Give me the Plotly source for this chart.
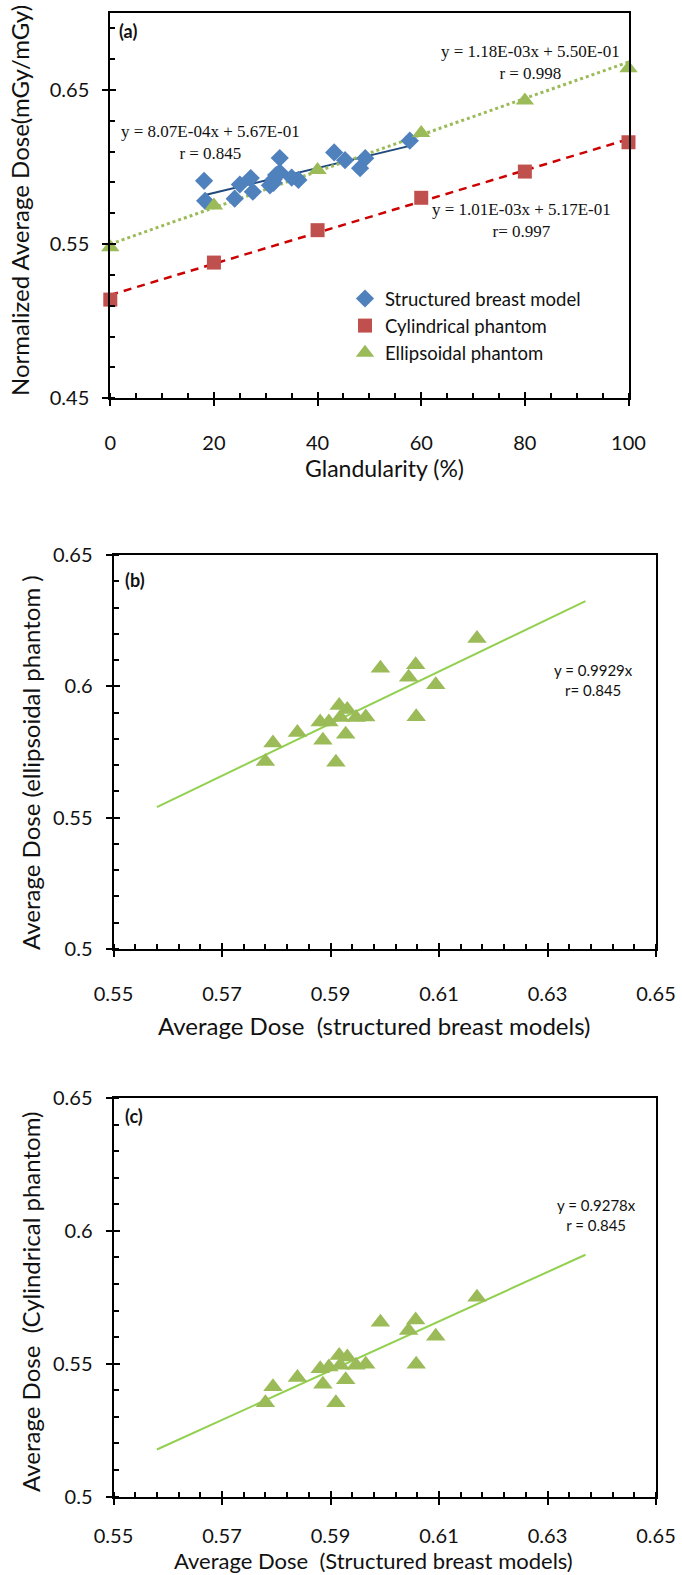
import plotly.graph_objects as go

W, H = 682, 1575

# ---------------- data ----------------
# Panel (a): glandularity vs normalized dose
phantom_gland = [0, 20, 40, 60, 80, 100]
ellip_dose = [0.548, 0.575, 0.598, 0.622, 0.643, 0.664]
cyl_dose = [0.514, 0.538, 0.559, 0.580, 0.597, 0.616]

struct_gland = [18.3, 24.0, 27.5, 30.8, 25.0, 31.5, 18.1, 36.3, 31.5, 27.1,
                35.0, 32.0, 32.7, 48.2, 45.3, 49.2, 32.7, 43.2, 57.8]
struct_dose = [0.5780, 0.5794, 0.5839, 0.5881, 0.5886, 0.5897, 0.5910, 0.5916,
               0.5918, 0.5928, 0.5931, 0.5947, 0.5965, 0.5992, 0.6044, 0.6057,
               0.6058, 0.6094, 0.6170]

# fit coefficients (slope, intercept)
fit_struct = (8.07e-4, 0.567)
fit_ellip = (1.18e-3, 0.550)
fit_cyl = (1.01e-3, 0.517)

# Panel (b) and (c): phantom dose vs structured dose
ellip_b = [0.5714, 0.5784, 0.5824, 0.5864, 0.5795, 0.5864, 0.5711, 0.5927,
           0.5881, 0.5818, 0.5912, 0.5881, 0.5883, 0.6069, 0.6035, 0.6082,
           0.5884, 0.6006, 0.6182]
cyl_c = [0.5353, 0.5413, 0.5448, 0.5481, 0.5423, 0.5488, 0.5353, 0.5531,
         0.5494, 0.5440, 0.5525, 0.5494, 0.5498, 0.5656, 0.5625, 0.5665,
         0.5498, 0.5603, 0.5750]
slope_b = 0.9929
slope_c = 0.9278
trend_x_range = [0.558, 0.637]

# ---------------- styles ----------------
BLUE = "#4F81BD"
NAVY = "#1F497D"
RED = "#C0504D"
DRED = "#CC0000"
GREEN = "#9BBB59"
LGREEN = "#92D050"
SANS = "Lato, Calibri, sans-serif"
SERIF = "Liberation Serif, Times New Roman, serif"


def px_x(p):
    return p / W


def px_y(p):
    return 1 - p / H


fig = go.Figure()

# ---- panel (a) ----
def line_pts(fit, xs):
    return [fit[0] * x + fit[1] for x in xs]

sx = [min(struct_gland), max(struct_gland)]
fig.add_trace(go.Scatter(x=sx, y=line_pts(fit_struct, sx), mode="lines",
                         line=dict(color=NAVY, width=2), showlegend=False,
                         xaxis="x", yaxis="y", hoverinfo="skip"))
px_rng = [min(phantom_gland), max(phantom_gland)]
fig.add_trace(go.Scatter(x=px_rng, y=line_pts(fit_cyl, px_rng), mode="lines",
                         line=dict(color=DRED, width=2.5, dash="8px,6px"), showlegend=False,
                         xaxis="x", yaxis="y", hoverinfo="skip"))
fig.add_trace(go.Scatter(x=px_rng, y=line_pts(fit_ellip, px_rng), mode="lines",
                         line=dict(color=GREEN, width=3, dash="dot"), showlegend=False,
                         xaxis="x", yaxis="y", hoverinfo="skip"))
fig.add_trace(go.Scatter(x=struct_gland, y=struct_dose, mode="markers",
                         name="Structured breast model",
                         marker=dict(symbol="diamond", size=14, color=BLUE),
                         cliponaxis=False, xaxis="x", yaxis="y"))
fig.add_trace(go.Scatter(x=phantom_gland, y=cyl_dose, mode="markers",
                         name="Cylindrical phantom",
                         marker=dict(symbol="square", size=14, color=RED),
                         cliponaxis=False, xaxis="x", yaxis="y"))
fig.add_trace(go.Scatter(x=phantom_gland, y=ellip_dose, mode="markers",
                         name="Ellipsoidal phantom",
                         marker=dict(symbol="triangle-up", size=16, color=GREEN),
                         cliponaxis=False, xaxis="x", yaxis="y"))

# ---- panel (b) ----
fig.add_trace(go.Scatter(x=trend_x_range, y=[slope_b * v for v in trend_x_range],
                         mode="lines", line=dict(color=LGREEN, width=2),
                         showlegend=False, xaxis="x2", yaxis="y2", hoverinfo="skip"))
fig.add_trace(go.Scatter(x=struct_dose, y=ellip_b, mode="markers",
                         marker=dict(symbol="triangle-up", size=17, color=GREEN),
                         showlegend=False, xaxis="x2", yaxis="y2"))

# ---- panel (c) ----
fig.add_trace(go.Scatter(x=trend_x_range, y=[slope_c * v for v in trend_x_range],
                         mode="lines", line=dict(color=LGREEN, width=2),
                         showlegend=False, xaxis="x3", yaxis="y3", hoverinfo="skip"))
fig.add_trace(go.Scatter(x=struct_dose, y=cyl_c, mode="markers",
                         marker=dict(symbol="triangle-up", size=17, color=GREEN),
                         showlegend=False, xaxis="x3", yaxis="y3"))

# empty traces to host overlay axes (inner halves of the crossing major ticks)
for xa, ya in (("x4", "y4"), ("x5", "y5"), ("x6", "y6")):
    fig.add_trace(go.Scatter(x=[], y=[], mode="markers", showlegend=False,
                             xaxis=xa, yaxis=ya, hoverinfo="skip"))


def axis(domain, rng, tick0, dtick, mtick0, mdtick, anchor, standoff):
    return dict(domain=domain, range=rng, anchor=anchor, tickmode="linear",
                tick0=tick0, dtick=dtick, ticks="outside", ticklen=6, tickwidth=2,
                tickcolor="black", showline=True, linecolor="black", linewidth=2,
                mirror=True, showgrid=False, zeroline=False, automargin=False,
                tickfont=dict(family=SANS, size=20, color="#111"),
                ticklabelstandoff=standoff,
                minor=dict(tickmode="linear", tick0=mtick0, dtick=mdtick, ticks="inside",
                           ticklen=5, tickwidth=1.5, tickcolor="black", showgrid=False))


def inner(domain, rng, tick0, dtick, anchor, over):
    return dict(domain=domain, range=rng, anchor=anchor, overlaying=over,
                tickmode="linear", tick0=tick0, dtick=dtick, ticks="inside",
                ticklen=6, tickwidth=2, tickcolor="black", showline=False,
                showticklabels=False, showgrid=False, zeroline=False, automargin=False)


dom_xa = [px_x(110.3), px_x(628.5)]
dom_ya = [px_y(398.3), px_y(12.7)]
dom_xb = [px_x(113.5), px_x(656)]
dom_yb = [px_y(949), px_y(555)]
dom_yc = [px_y(1496.6), px_y(1098)]

fig.update_layout(
    width=W, height=H, margin=dict(l=0, r=0, t=0, b=0, autoexpand=False),
    paper_bgcolor="white", plot_bgcolor="white",
    xaxis=axis(dom_xa, [0, 100], 0, 20, 0, 5, "y", 20),
    yaxis=axis(dom_ya, [0.45, 0.70], 0.45, 0.1, 0.45, 0.02, "x", 9),
    xaxis2=axis(dom_xb, [0.55, 0.65], 0.55, 0.02, 0.55, 0.004, "y2", 20),
    yaxis2=axis(dom_yb, [0.5, 0.65], 0.5, 0.05, 0.5, 0.01, "x2", 9),
    xaxis3=axis(dom_xb, [0.55, 0.65], 0.55, 0.02, 0.55, 0.004, "y3", 14),
    yaxis3=axis(dom_yc, [0.5, 0.65], 0.5, 0.05, 0.5, 0.01, "x3", 9),
    xaxis4=inner(dom_xa, [0, 100], 0, 20, "y4", "x"),
    yaxis4=inner(dom_ya, [0.45, 0.70], 0.45, 0.1, "x4", "y"),
    xaxis5=inner(dom_xb, [0.55, 0.65], 0.55, 0.02, "y5", "x2"),
    yaxis5=inner(dom_yb, [0.5, 0.65], 0.5, 0.05, "x5", "y2"),
    xaxis6=inner(dom_xb, [0.55, 0.65], 0.55, 0.02, "y6", "x3"),
    yaxis6=inner(dom_yc, [0.5, 0.65], 0.5, 0.05, "x6", "y3"),
    legend=dict(x=px_x(345), y=px_y(280), xanchor="left", yanchor="top",
                font=dict(family=SANS, size=18.5, color="#111"),
                bgcolor="rgba(0,0,0,0)", tracegroupgap=0),
    showlegend=True,
)

ann = []


def text(x, y, t, size, family=SANS, angle=0, xanchor="center", yanchor="middle"):
    ann.append(dict(x=px_x(x), y=px_y(y), xref="paper", yref="paper", text=t,
                    showarrow=False, textangle=angle, xanchor=xanchor, yanchor=yanchor,
                    font=dict(family=family, size=size, color="#111"),
                    align="center", borderpad=0))


# axis titles
text(384.7, 468, "Glandularity (%)", 23)
text(19, 201, "Normalized Average Dose(mGy/mGy)", 24, angle=-90)
text(373.6, 1025, "Average Dose  (structured breast models)", 24)
text(30, 763, "Average Dose (ellipsoidal phantom )", 24, angle=-90)
text(373.6, 1575, "Average Dose  (Structured breast models)", 22, yanchor="bottom")
text(30, 1302, "Average Dose  (Cylindrical phantom)", 24, angle=-90)

# panel labels
text(118, 31, "<b>(a)</b>", 18, xanchor="left")
text(124, 580, "<b>(b)</b>", 18, xanchor="left")
text(124, 1116, "<b>(c)</b>", 18, xanchor="left")

# equations
text(210, 142.5, "y = 8.07E-04x + 5.67E-01<br>r = 0.845", 17, family=SERIF)
text(530, 62.5, "y = 1.18E-03x + 5.50E-01<br>r = 0.998", 17, family=SERIF)
text(521, 221, "y = 1.01E-03x + 5.17E-01<br>r= 0.997", 17, family=SERIF)
text(593.5, 679.5, "y = 0.9929x<br>r= 0.845", 15)
text(596, 1215, "y = 0.9278x<br>r = 0.845", 15)

fig.update_layout(annotations=ann)

fig.write_html("out.html")
